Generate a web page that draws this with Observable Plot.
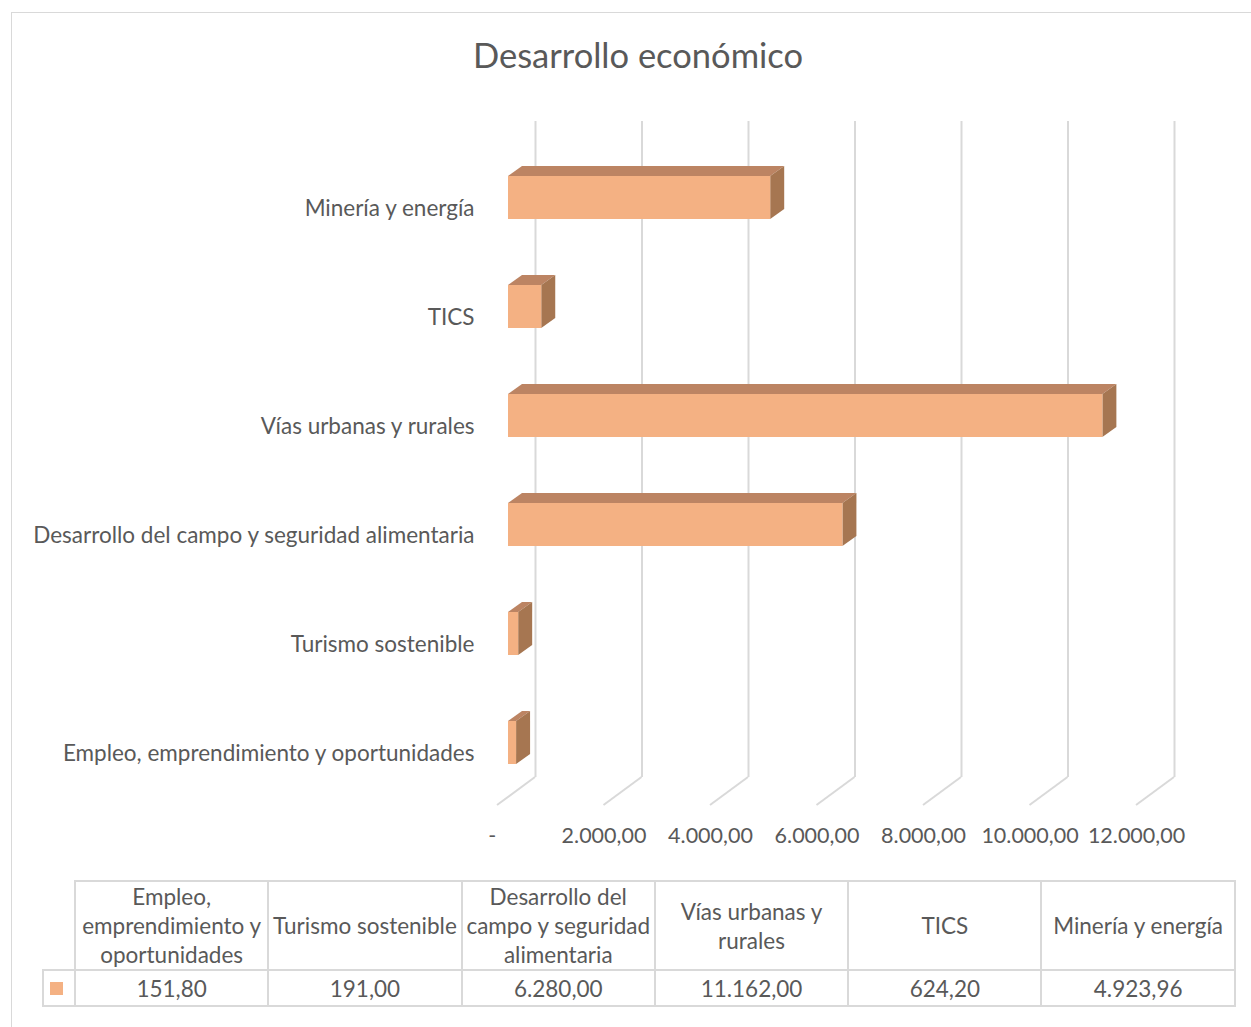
<!DOCTYPE html>
<html><head><meta charset="utf-8">
<script src="https://cdn.jsdelivr.net/npm/d3@7"></script>
<script src="https://cdn.jsdelivr.net/npm/@observablehq/plot@0.6"></script>
<style>
html,body{margin:0;padding:0;background:#fff;overflow:hidden;}
body{font-family:Lato,"Open Sans",sans-serif;color:#595959;width:1251px;height:1027px;position:relative;}
#frame{position:absolute;left:11px;top:12px;width:1300px;height:1100px;border:1.5px solid #d9d9d9;box-sizing:border-box;}
#title{position:absolute;left:0;width:1276px;top:35px;text-align:center;font-size:34.5px;line-height:40px;}
#chart{position:absolute;left:0;top:100px;}
#tbl{position:absolute;left:42px;top:880px;border-collapse:collapse;font-size:22.5px;color:#595959;}
#tbl td{border:2px solid #d9d9d9;text-align:center;padding:0;line-height:29px;white-space:nowrap;}
#tbl td.blank{border:none;}
#tbl td.keycell{text-align:left;padding-left:6px;}
#tbl tr.head td{height:81px;}
#tbl tr.vals td{height:34px;}
.key{display:inline-block;width:13px;height:13px;vertical-align:middle;position:relative;top:-2px;}
</style></head>
<body>
<div id="frame"></div>
<div id="title"></div>
<div id="chart"></div>
<table id="tbl"></table>
<script>
// ---- data ----
const title = "Desarrollo económico";
const categories = ["Empleo, emprendimiento y oportunidades", "Turismo sostenible", "Desarrollo del campo y seguridad alimentaria", "Vías urbanas y rurales", "TICS", "Minería y energía"];
const values = [151.80, 191.00, 6280.00, 11162.00, 624.20, 4923.96];
const headerLines = [["Empleo,", "emprendimiento y", "oportunidades"], ["Turismo sostenible"], ["Desarrollo del", "campo y seguridad", "alimentaria"], ["Vías urbanas y", "rurales"], ["TICS"], ["Minería y energía"]];
const xTicks = [0, 2000, 4000, 6000, 8000, 10000, 12000];

// ---- styles ----
const frontColor = "#F4B183", topColor = "#BC8463", sideColor = "#A67651", gridColor = "#d9d9d9";
const depthX = 14, depthY = -10;             // bar depth (px)
const wallX = 27, floorX = -11, floorY = 28; // grid wall / floor offsets (px)

const locale = d3.formatLocale({decimal: ",", thousands: ".", grouping: [3], currency: ["", ""]});
const fmt = locale.format(",.2f");
const tickFmt = d => d === 0 ? "-\u2002" : fmt(d);

const data = categories.map((c, i) => ({category: c, value: values[i]}));
const order = categories.slice().reverse();

document.getElementById("title").textContent = title;

const W = 1251, H = 770, mTop = 21, mBottom = 93;

function gridFloor(index, scales, vals, dims) {
  const g = d3.create("svg:g");
  const yb = dims.height - dims.marginBottom;
  for (const t of xTicks) {
    const x = scales.x(t);
    g.append("line")
      .attr("x1", x + wallX).attr("y1", yb)
      .attr("x2", x + floorX).attr("y2", yb + floorY)
      .attr("stroke", gridColor).attr("stroke-width", 2);
  }
  return g.node();
}

function bars3d(index, scales) {
  const g = d3.create("svg:g");
  const bw = scales.y.bandwidth();
  for (const d of data) {
    const x0 = scales.x(0), x1 = scales.x(d.value);
    const y0 = scales.y(d.category), y1 = y0 + bw;
    g.append("polygon")
      .attr("points", [[x0, y0], [x0 + depthX, y0 + depthY], [x1 + depthX, y0 + depthY], [x1, y0]].join(" "))
      .attr("fill", topColor);
    g.append("polygon")
      .attr("points", [[x1, y0], [x1 + depthX, y0 + depthY], [x1 + depthX, y1 + depthY], [x1, y1]].join(" "))
      .attr("fill", sideColor);
  }
  return g.node();
}

const plot = Plot.plot({
  width: W, height: H,
  marginTop: mTop, marginBottom: mBottom, marginLeft: 508, marginRight: 104,
  style: {fontFamily: "Lato, 'Open Sans', sans-serif", fontSize: "20px", color: "#595959", background: "transparent"},
  x: {domain: [0, 12000], range: [508, 1147], label: null},
  y: {domain: order, range: [8.8, 730.2], padding: 0.6062, label: null},
  marks: [
    Plot.ruleX(xTicks, {x: d => d, dx: wallX, stroke: gridColor, strokeWidth: 2}),
    gridFloor,
    bars3d,
    Plot.barX(data, {x: "value", y: "category", fill: frontColor}),
    Plot.axisY({tickSize: 0, tickPadding: 34, dy: 11, fontSize: 22.5, fill: "#595959", label: null}),
    Plot.axisX(xTicks, {anchor: "bottom", tickSize: 0, tickPadding: 50, dx: floorX, fontSize: 21.5, fill: "#595959", tickFormat: tickFmt, label: null})
  ]
});
document.getElementById("chart").appendChild(plot);

// ---- data table ----
const tbl = d3.select("#tbl");
const colW = 193.3;
const hr = tbl.append("tr").attr("class", "head");
hr.append("td").attr("class", "blank").style("width", "31px");
headerLines.forEach(lines => {
  const td = hr.append("td").style("width", (colW - 2) + "px");
  lines.forEach((l, j) => { if (j) td.append("br"); td.append("span").text(l); });
});
const vr = tbl.append("tr").attr("class", "vals");
vr.append("td").attr("class", "keycell").append("span").attr("class", "key").style("background", frontColor);
values.forEach(v => vr.append("td").text(fmt(v)));
</script>
</body></html>
